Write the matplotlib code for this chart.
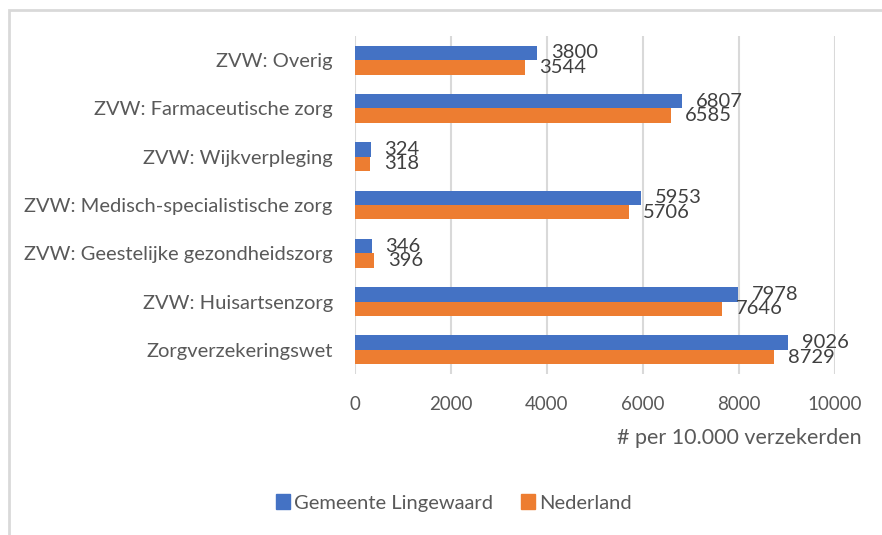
import matplotlib
matplotlib.use("Agg")
import matplotlib.pyplot as plt
from matplotlib.patches import Rectangle, Patch
import numpy as np

categories = ["Zorgverzekeringswet", "ZVW: Huisartsenzorg", "ZVW: Geestelijke gezondheidszorg",
              "ZVW: Medisch-specialistische zorg", "ZVW: Wijkverpleging",
              "ZVW: Farmaceutische zorg", "ZVW: Overig"]
lingewaard = [9026, 7978, 346, 5953, 324, 6807, 3800]
nederland = [8729, 7646, 396, 5706, 318, 6585, 3544]
series_names = ["Gemeente Lingewaard", "Nederland"]
xticks = [0, 2000, 4000, 6000, 8000, 10000]
xlabel = "# per 10.000 verzekerden"

BLUE = "#4472C4"
ORANGE = "#ED7D31"
TXT = "#595959"
GRID = "#D9D9D9"
FONT = "Lato"

plt.rcParams['font.family'] = [FONT, 'DejaVu Sans']

fig = plt.figure(figsize=(8.82, 5.35), dpi=100)
W, H = 882, 535
ax = fig.add_axes([355 / W, 1 - 374 / H, 480 / W, 338 / H])

y = np.arange(len(categories))
bh = 0.3
ax.barh(y + bh / 2, lingewaard, height=bh, color=BLUE, zorder=3)
ax.barh(y - bh / 2, nederland, height=bh, color=ORANGE, zorder=3)

for yi, v in zip(y, lingewaard):
    ax.annotate(f"{v}", (v, yi + bh / 2), xytext=(14, 0), textcoords="offset pixels",
                ha="left", va="center", fontsize=14.5, color="#404040")
for yi, v in zip(y, nederland):
    ax.annotate(f"{v}", (v, yi - bh / 2), xytext=(14, 0), textcoords="offset pixels",
                ha="left", va="center", fontsize=14.5, color="#404040")

ax.set_xlim(0, 10000)
ax.set_ylim(-0.5, len(categories) - 0.5)
ax.set_xticks(xticks)
ax.set_xticklabels([str(t) for t in xticks], fontsize=13.5, color=TXT)
ax.set_yticks(y)
ax.set_yticklabels(categories, fontsize=14.5, color=TXT)
ax.tick_params(axis="both", length=0)
ax.tick_params(axis="y", pad=16)
ax.tick_params(axis="x", pad=16)
ax.grid(axis="x", color=GRID, linewidth=1.5, zorder=0)
for s in ax.spines.values():
    s.set_visible(False)

fig.text(862 / W, 1 - 438 / H, xlabel, ha="right", va="center", fontsize=15.5, color=TXT)

handles = [Patch(facecolor=BLUE, edgecolor=BLUE), Patch(facecolor=ORANGE, edgecolor=ORANGE)]
fig.legend(handles, series_names, loc="center", bbox_to_anchor=(454 / W, 1 - 503 / H),
           ncol=2, frameon=False, fontsize=14.5, handlelength=0.7, handleheight=0.7,
           handletextpad=0.2, columnspacing=1.4, labelcolor=TXT)

fig.patches.append(Rectangle((9 / W, -0.1), 1.2, 1 - 10 / H + 0.1, transform=fig.transFigure,
                             fill=False, edgecolor=GRID, linewidth=2, figure=fig))

fig.savefig("out.png", dpi=100)
